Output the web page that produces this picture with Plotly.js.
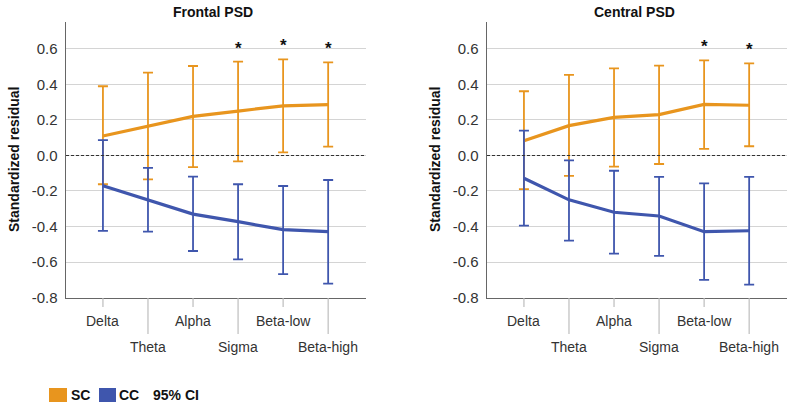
<!DOCTYPE html>
<html>
<head>
<meta charset="utf-8">
<script src="https://cdn.plot.ly/plotly-3.0.1.min.js"></script>
<style>html,body{margin:0;padding:0;background:#fff;}#chart{width:790px;height:408px;}</style>
</head>
<body>
<div id="chart"></div>
<script>
// ---- data ----
var categories = ["Delta", "Theta", "Alpha", "Sigma", "Beta-low", "Beta-high"];
var panelTitles = ["Frontal PSD", "Central PSD"];
var yTickValues = [-0.8, -0.6, -0.4, -0.2, 0.0, 0.2, 0.4, 0.6];

// Frontal
var frontalSCMean  = [0.11, 0.166, 0.22, 0.25, 0.28, 0.286];
var frontalSCUpper = [0.39, 0.467, 0.504, 0.529, 0.542, 0.525];
var frontalSCLower = [-0.162, -0.134, -0.065, -0.033, 0.018, 0.05];
var frontalCCMean  = [-0.17, -0.251, -0.33, -0.373, -0.418, -0.429];
var frontalCCUpper = [0.087, -0.07, -0.119, -0.162, -0.172, -0.138];
var frontalCCLower = [-0.425, -0.429, -0.538, -0.585, -0.668, -0.722];
var frontalSig = ["Sigma", "Beta-low", "Beta-high"];

// Central
var centralSCMean  = [0.083, 0.168, 0.215, 0.23, 0.288, 0.283];
var centralSCUpper = [0.362, 0.454, 0.491, 0.506, 0.536, 0.519];
var centralSCLower = [-0.19, -0.115, -0.063, -0.048, 0.037, 0.052];
var centralCCMean  = [-0.128, -0.25, -0.32, -0.341, -0.429, -0.424];
var centralCCUpper = [0.14, -0.027, -0.086, -0.121, -0.157, -0.121];
var centralCCLower = [-0.395, -0.48, -0.553, -0.566, -0.701, -0.728];
var centralSig = ["Beta-low", "Beta-high"];

var groupNames = ["SC", "CC"];
var ciLabel = "95% CI";
var yTitle = "Standardized residual";

// ---- styling ----
var orange = "#E8951E";
var blue = "#3F56AD";
var FONT = "Liberation Sans, Arial, sans-serif";

var panels = [
  {sc: [frontalSCMean, frontalSCUpper, frontalSCLower], cc: [frontalCCMean, frontalCCUpper, frontalCCLower], sig: frontalSig, xa: "x", ya: "y"},
  {sc: [centralSCMean, centralSCUpper, centralSCLower], cc: [centralCCMean, centralCCUpper, centralCCLower], sig: centralSig, xa: "x2", ya: "y2"}
];

function diff(a, b) { return a.map(function (v, i) { return v - b[i]; }); }

var traces = [];
var annotations = [];
var shapes = [];
var H = 408, W = 790;
function py(pix) { return 1 - pix / H; }
function px(pix) { return pix / W; }

panels.forEach(function (p, pi) {
  [["sc", orange, 0], ["cc", blue, 1]].forEach(function (g) {
    var d = p[g[0]];
    traces.push({
      type: "scatter", mode: "lines", x: categories, y: d[0],
      xaxis: p.xa, yaxis: p.ya, name: groupNames[g[2]], showlegend: false,
      line: {color: g[1], width: 3.2},
      error_y: {type: "data", symmetric: false, array: diff(d[1], d[0]), arrayminus: diff(d[0], d[2]),
        color: g[1], thickness: 1.8, width: 5}
    });
  });
  // significance asterisks
  p.sig.forEach(function (c) {
    var i = categories.indexOf(c);
    annotations.push({xref: p.xa, yref: p.ya, x: c, y: p.sc[1][i], text: "<b>*</b>", showarrow: false,
      yanchor: "bottom", yshift: 2, font: {family: FONT, size: 17, color: "#111"}});
  });
  // panel title
  annotations.push({xref: p.xa + " domain", yref: "paper", x: 0.49, y: py(12), xanchor: "center", yanchor: "middle",
    text: "<b>" + panelTitles[pi] + "</b>", showarrow: false, font: {family: FONT, size: 14, color: "#111"}});
  // y title
  var axisLeft = pi === 0 ? 66 : 487;
  annotations.push({xref: "paper", yref: "paper", x: px(axisLeft - 52), y: py(160), xanchor: "center", yanchor: "middle",
    text: "<b>" + yTitle + "</b>", textangle: -90, showarrow: false, font: {family: FONT, size: 14, color: "#111"}});
  // staggered category labels and tick lines
  categories.forEach(function (c, i) {
    var low = i % 2 === 1;
    annotations.push({xref: p.xa, yref: "paper", x: c, y: py(low ? 347 : 321), xanchor: "center", yanchor: "middle",
      text: c, showarrow: false, font: {family: FONT, size: 14, color: "#333"}});
    shapes.push({type: "line", xref: p.xa, yref: "paper", x0: c, x1: c, y0: py(298), y1: py(low ? 334 : 307),
      line: {color: "#bdbdbd", width: 1.2}});
  });
  // dashed zero reference line
  shapes.push({type: "line", xref: p.xa + " domain", yref: p.ya, x0: 0, x1: 1, y0: 0, y1: 0,
    line: {color: "#333", width: 1.2, dash: "3px,2px"}});
});

// legend
shapes.push({type: "rect", xref: "paper", yref: "paper", x0: px(49), x1: px(67), y0: py(402), y1: py(388),
  fillcolor: orange, line: {width: 0}});
shapes.push({type: "rect", xref: "paper", yref: "paper", x0: px(99), x1: px(116), y0: py(402), y1: py(388),
  fillcolor: blue, line: {width: 0}});
[[groupNames[0], 69], [groupNames[1], 117], [ciLabel, 151]].forEach(function (l) {
  annotations.push({xref: "paper", yref: "paper", x: px(l[1]), y: py(395), xanchor: "left", yanchor: "middle",
    text: "<b>" + l[0] + "</b>", showarrow: false, font: {family: FONT, size: 14, color: "#111"}});
});

function xAxis(d0, d1, anchor) {
  return {domain: [px(d0), px(d1)], anchor: anchor, type: "category", range: [-0.82, 5.84],
    showgrid: false, zeroline: false, showticklabels: false, ticks: "",
    showline: true, linecolor: "#666", linewidth: 1.5, fixedrange: true};
}
function yAxis(anchor) {
  return {domain: [py(297.5), py(22)], anchor: anchor, range: [-0.8, 0.752],
    tickmode: "array", tickvals: yTickValues, ticktext: yTickValues.map(function (v) { return v.toFixed(1); }),
    showgrid: true, gridcolor: "#d4d4d4", gridwidth: 1, zeroline: false,
    showline: true, linecolor: "#666", linewidth: 1.5, ticks: "", ticklabelstandoff: 4,
    tickfont: {family: FONT, size: 15, color: "#333"}, fixedrange: true};
}

var layout = {
  width: W, height: H, margin: {l: 0, r: 0, t: 0, b: 0},
  paper_bgcolor: "#fff", plot_bgcolor: "#fff", showlegend: false,
  font: {family: FONT},
  xaxis: xAxis(66, 366, "y"), yaxis: yAxis("x"),
  xaxis2: xAxis(487, 787, "y2"), yaxis2: yAxis("x2"),
  annotations: annotations, shapes: shapes
};

Plotly.newPlot("chart", traces, layout, {displayModeBar: false, staticPlot: true});
</script>
</body>
</html>
